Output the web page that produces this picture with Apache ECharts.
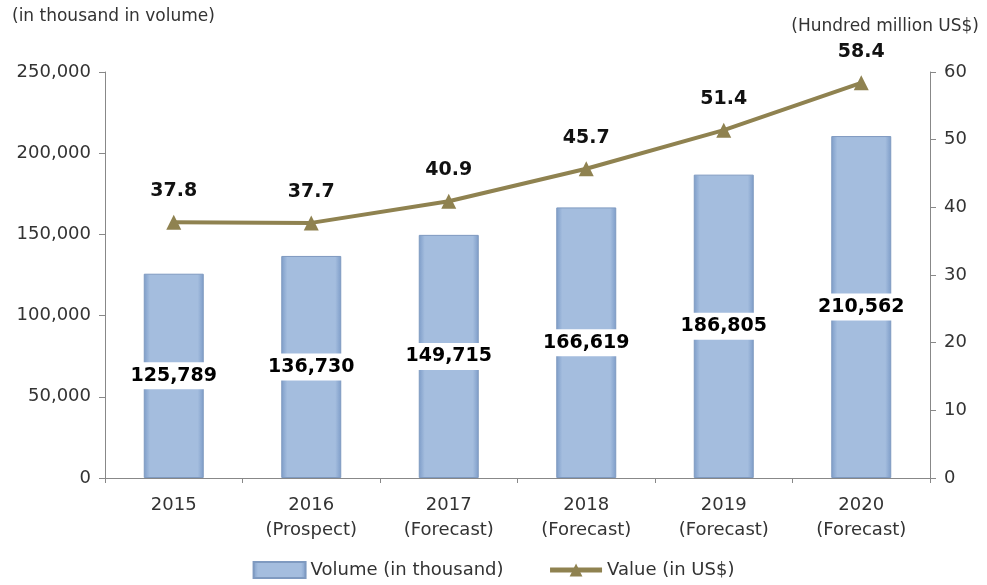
<!DOCTYPE html>
<html><head><meta charset="utf-8">
<script src="https://cdn.jsdelivr.net/npm/echarts@6/dist/echarts.min.js"></script>
<style>html,body{margin:0;padding:0;background:#fff}#c{width:987px;height:585px}</style>
</head><body><div id="c"></div>
<script>
const categories = ['2015\n', '2016\n(Prospect)', '2017\n(Forecast)', '2018\n(Forecast)', '2019\n(Forecast)', '2020\n(Forecast)'];
const volume = [125789, 136730, 149715, 166619, 186805, 210562];
const value = [37.8, 37.7, 40.9, 45.7, 51.4, 58.4];
const leftTicks = {min: 0, max: 250000, interval: 50000};
const rightTicks = {min: 0, max: 60, interval: 10};

const FONT = '"DejaVu Sans", "Liberation Sans", sans-serif';
const chart = echarts.init(document.getElementById('c'));
chart.setOption({
  animation: false,
  textStyle: {fontFamily: FONT},
  grid: {left: 105, right: 57, top: 72, bottom: 107},
  graphic: [
    {type: 'text', left: 12, top: 8, style: {text: '(in thousand in volume)', font: '17px ' + FONT, fill: '#333'}},
    {type: 'text', right: 8, top: 18, style: {text: '(Hundred million US$)', font: '17px ' + FONT, fill: '#333'}}
  ],
  legend: {
    bottom: 1, left: 'center', itemGap: 44, itemWidth: 52, itemHeight: 16,
    textStyle: {fontSize: 18, color: '#333', fontFamily: FONT},
    data: [
      {name: 'Volume (in thousand)', icon: 'rect'},
      {name: 'Value (in US$)', lineStyle: {width: 5}}
    ]
  },
  xAxis: {
    type: 'category', data: categories,
    axisLine: {lineStyle: {color: '#888', width: 1}},
    axisTick: {show: true, length: 5, lineStyle: {color: '#888'}},
    axisLabel: {fontSize: 18, color: '#333', lineHeight: 25, margin: 15, fontFamily: FONT}
  },
  yAxis: [
    {type: 'value', min: leftTicks.min, max: leftTicks.max, interval: leftTicks.interval,
     splitLine: {show: false},
     axisLine: {show: true, lineStyle: {color: '#888'}},
     axisTick: {show: true, length: 6, lineStyle: {color: '#888'}},
     axisLabel: {fontSize: 18, color: '#333', margin: 14, fontFamily: FONT,
       formatter: v => v.toLocaleString('en-US')}},
    {type: 'value', min: rightTicks.min, max: rightTicks.max, interval: rightTicks.interval,
     position: 'right', splitLine: {show: false},
     axisLine: {show: true, lineStyle: {color: '#888'}},
     axisTick: {show: true, length: 6, lineStyle: {color: '#888'}},
     axisLabel: {fontSize: 18, color: '#333', margin: 14, fontFamily: FONT}}
  ],
  series: [
    {name: 'Volume (in thousand)', type: 'bar', yAxisIndex: 0, data: volume, barWidth: 60,
     itemStyle: {
       color: new echarts.graphic.LinearGradient(0, 0, 1, 0, [
         {offset: 0, color: '#7D9CC8'}, {offset: 0.1, color: '#A4BDDE'},
         {offset: 0.9, color: '#A4BDDE'}, {offset: 1, color: '#7D9CC8'}]),
       borderColor: '#7F9AC0', borderWidth: 1
     },
     label: {show: true, position: 'inside', fontSize: 19, fontWeight: 'bold', color: '#000',
       backgroundColor: '#fff', padding: [4, 3], fontFamily: FONT,
       formatter: p => p.value.toLocaleString('en-US')}},
    {name: 'Value (in US$)', type: 'line', yAxisIndex: 1, data: value,
     symbol: 'triangle', symbolSize: 15,
     lineStyle: {color: '#8F8250', width: 4},
     itemStyle: {color: '#8F8250'},
     label: {show: true, position: 'top', distance: 14, fontSize: 19, fontWeight: 'bold', color: '#111', fontFamily: FONT,
       formatter: p => p.value.toFixed(1)}}
  ]
});
</script></body></html>
